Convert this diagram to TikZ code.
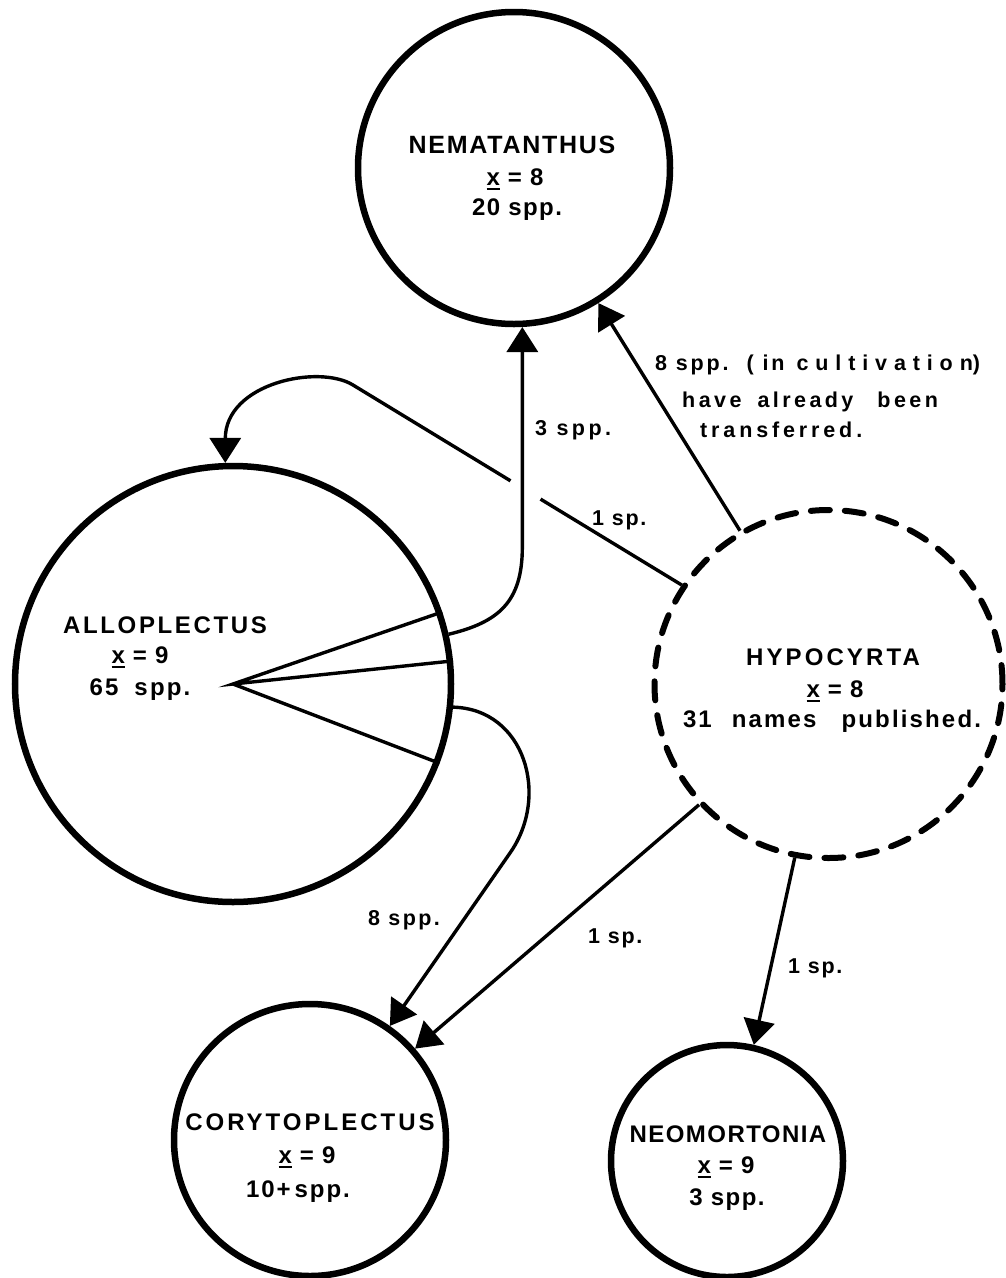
\documentclass[tikz,border=0pt]{standalone}
\usepackage{fontspec}
\setmainfont{Liberation Sans}[LetterSpace=6]
\usetikzlibrary{arrows.meta,calc}
\newcommand\ux{\rlap{\rule[-5pt]{0.56em}{2.4pt}}x}
\newcommand\ls[1]{\addfontfeature{LetterSpace=#1}}
\begin{document}
\begin{tikzpicture}[x=1pt,y=-1pt,
  genus/.style={circle,draw,line width=6.5pt,inner sep=0pt},
  conn/.style={line width=3.4pt},
  arr/.style={conn,-{Triangle[length=25pt,width=31pt]}},
  gtext/.style={font=\bfseries\fontsize{24}{28}\selectfont,anchor=base,inner sep=0pt},
  elabel/.style={font=\bfseries\fontsize{21.5}{26}\selectfont,anchor=base west,inner sep=0pt},
]
\useasboundingbox (0,0) rectangle (1005,1278);

% genera
\node[genus,minimum size=312pt] (nem) at (514,168) {};
\node[genus,minimum size=436pt] (allo) at (233,684) {};
\node[genus,line width=6pt,dash pattern=on 19pt off 15pt,line cap=round,minimum size=348pt] (hyp) at (828.5,684) {};
\node[genus,minimum size=272pt] (cory) at (310,1140) {};
\node[genus,minimum size=232pt] (neo) at (727,1161) {};

% texts in circles
\node[gtext,font=\bfseries\fontsize{25}{30}\selectfont\ls{7}] (nem1) at (512,153) {NEMATANTHUS};
\node[gtext] (nem2) at (515,185) {\ux{} = 8};
\node[gtext] (nem3) at (517,215) {20 spp.};

\node[gtext] (allo1) at (165,633) {\ls{11}ALLOPLECTUS};
\node[gtext] (allo2) at (140,663) {\ux{} = 9};
\node[gtext] (allo3) at (140,695) {\ls{9}65\hspace{16pt}spp.};

\node[gtext] (hyp1) at (833,665) {\ls{13}HYPOCYRTA};
\node[gtext] (hyp2) at (835,697) {\ux{} = 8};
\node[gtext] (hyp3) at (832,727) {\ls{9}31\hspace{20pt}names\hspace{25pt}published.};

\node[gtext] (cory1) at (310,1130) {\ls{12.5}CORYTOPLECTUS};
\node[gtext] (cory2) at (307,1163) {\ux{} = 9};
\node[gtext] (cory3) at (298,1197) {\ls{8}10+\,spp.};

\node[gtext] (neo1) at (728,1142) {\ls{6}NEOMORTONIA};
\node[gtext] (neo2) at (726,1173) {\ux{} = 9};
\node[gtext] (neo3) at (727,1205) {3 spp.};

% wedge in Alloplectus
\draw[conn] (allo.19.7) -- (allo.center) -- (allo.6.6);
\draw[conn] (allo.center) -- (allo.-21.1);

% Hypocyrta -> Nematanthus
\draw[arr] (hyp.120.4) -- (nem.-58);

% Hypocyrta -> Alloplectus (broken where it passes behind)
\coordinate (bend) at (353,385);
\coordinate (gR) at ($(hyp.146.8)!0.4295!(bend)$);
\coordinate (gL) at ($(hyp.146.8)!0.521!(bend)$);
\draw[conn] (hyp.146.8) -- (gR);
\draw[arr] (gL) -- (bend) .. controls +(-34,-21) and +(0,-80) .. (allo.92.85);

% Alloplectus -> Nematanthus
\coordinate (v1) at ($(nem.-87.5)+(0,220)$);
\draw[arr] (allo.13.48) .. controls +(50,-12) and +(0,55) .. (v1) -- (nem.-87.5);

% Alloplectus -> Corytoplectus
\coordinate (c2) at (510,853);
\draw[arr] (allo.-6.77) .. controls +(72,2) and +(40,-57) .. (c2) -- (cory.55.7);

% Hypocyrta -> Corytoplectus, Neomortonia
\draw[arr] (hyp.-137.9) -- (cory.41.5);
\draw[arr] (hyp.-101.2) -- (neo.77.4);

% edge labels
\node[elabel,font=\bfseries\fontsize{21.5}{26}\selectfont\ls{16}] (l3) at (535,435) {3 spp.};
\node[elabel,font=\bfseries\fontsize{21.5}{26}\selectfont\ls{8}] (l1a) at (592,525) {1 sp.};
\node[elabel,font=\bfseries\fontsize{21.5}{26}\selectfont\ls{11}] (l8) at (368,925) {8 spp.};
\node[elabel,font=\bfseries\fontsize{21.5}{26}\selectfont\ls{8}] (l1b) at (588,943) {1 sp.};
\node[elabel,font=\bfseries\fontsize{21.5}{26}\selectfont\ls{8}] (l1c) at (788,973) {1 sp.};
\node[elabel,font=\bfseries\fontsize{21.5}{26}\selectfont\ls{13}] (lt1) at (655,370) {8 spp.\hspace{18pt}(\hspace{9pt}in\hspace{12pt}{\ls{32}cultivation})};
\node[elabel,font=\bfseries\fontsize{21.5}{26}\selectfont\ls{16}] (lt2) at (682,407) {have\hspace{16pt}already\hspace{24pt}been};
\node[elabel,font=\bfseries\fontsize{21.5}{26}\selectfont\ls{18}] (lt3) at (700,437) {transferred.};
\end{tikzpicture}
\end{document}
